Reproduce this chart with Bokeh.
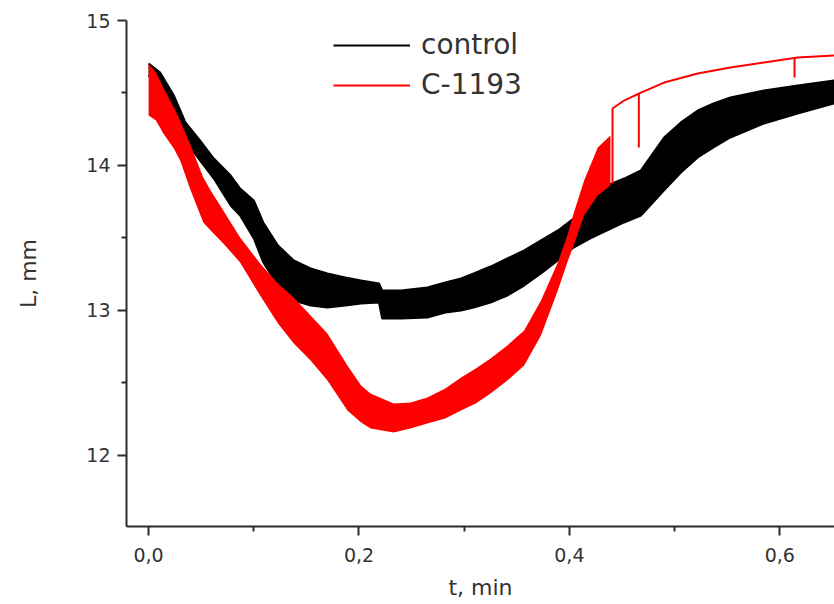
from bokeh.plotting import figure
from bokeh.models import Range1d, FixedTicker, CustomJSTickFormatter, Legend, LegendItem
from bokeh.embed import file_html
from bokeh.resources import INLINE

# ---- data (t in min, L in mm) ----
control_t = [0.000, 0.011, 0.024, 0.035, 0.049, 0.062, 0.078, 0.087, 0.100, 0.109,
             0.123, 0.138, 0.154, 0.170, 0.187, 0.202, 0.219, 0.222, 0.240, 0.265,
             0.282, 0.297, 0.309, 0.325, 0.341, 0.357, 0.373, 0.389, 0.404, 0.420,
             0.436, 0.452, 0.468, 0.490, 0.506, 0.522, 0.537, 0.553, 0.585, 0.617, 0.652]
control_upper = [14.703, 14.641, 14.483, 14.297, 14.172, 14.048, 13.931, 13.841, 13.759, 13.607,
                 13.448, 13.345, 13.290, 13.255, 13.228, 13.207, 13.186, 13.138, 13.138, 13.159,
                 13.193, 13.221, 13.255, 13.303, 13.359, 13.414, 13.483, 13.552, 13.634, 13.772,
                 13.862, 13.910, 13.966, 14.193, 14.297, 14.379, 14.428, 14.469, 14.517, 14.552, 14.586]
control_lower = [14.621, 14.517, 14.345, 14.172, 14.034, 13.910, 13.724, 13.655, 13.497, 13.331,
                 13.172, 13.069, 13.034, 13.021, 13.034, 13.048, 13.055, 12.945, 12.945, 12.952,
                 12.986, 13.000, 13.021, 13.055, 13.103, 13.172, 13.255, 13.345, 13.434, 13.497,
                 13.552, 13.607, 13.655, 13.828, 13.952, 14.055, 14.124, 14.193, 14.290, 14.359, 14.428]

c1193_t = [0.000, 0.007, 0.014, 0.024, 0.030, 0.040, 0.052, 0.059, 0.071, 0.087,
           0.106, 0.123, 0.138, 0.154, 0.170, 0.189, 0.202, 0.211, 0.233, 0.249,
           0.265, 0.282, 0.297, 0.311, 0.325, 0.341, 0.357, 0.373, 0.389, 0.398,
           0.404, 0.414, 0.427, 0.439]
c1193_upper = [14.703, 14.641, 14.538, 14.400, 14.310, 14.138, 13.917, 13.828, 13.690, 13.503,
               13.324, 13.186, 13.090, 12.966, 12.841, 12.621, 12.483, 12.428, 12.359, 12.366,
               12.400, 12.462, 12.538, 12.600, 12.669, 12.759, 12.862, 13.069, 13.331, 13.517,
               13.669, 13.897, 14.124, 14.207]
c1193_lower = [14.345, 14.310, 14.221, 14.117, 14.034, 13.828, 13.607, 13.552, 13.462, 13.331,
               13.103, 12.910, 12.772, 12.655, 12.517, 12.310, 12.228, 12.186, 12.159, 12.186,
               12.221, 12.255, 12.310, 12.359, 12.428, 12.517, 12.621, 12.828, 13.138, 13.331,
               13.448, 13.655, 13.793, 13.862]
c1193_tail_t = [0.441, 0.441, 0.452, 0.468, 0.490, 0.522, 0.553, 0.585, 0.617, 0.652]
c1193_tail_L = [13.876, 14.393, 14.448, 14.503, 14.572, 14.634, 14.676, 14.710, 14.745, 14.759]
c1193_spike_t = [0.466, 0.614]
c1193_spike_top = [14.500, 14.745]
c1193_spike_bottom = [14.124, 14.607]

x_ticks = [0.0, 0.2, 0.4, 0.6]
y_ticks = [12, 13, 14, 15]

FONT = "DejaVu Sans"
AX = "#2b2b2b"

p = figure(width=834, height=602, output_backend="svg", toolbar_location=None,
           x_range=Range1d(-0.021, 0.652), y_range=Range1d(11.51, 15.0),
           min_border_left=126, min_border_right=0, min_border_top=20, min_border_bottom=76)
p.outline_line_color = None
p.grid.visible = False

# bands
p.varea(x=control_t, y1=control_lower, y2=control_upper, fill_color="#000000")
r_ctrl = p.line(control_t, control_upper, line_color="#000000", line_width=2)
p.line(control_t, control_lower, line_color="#000000", line_width=2)
p.varea(x=c1193_t, y1=c1193_lower, y2=c1193_upper, fill_color="#ff0000")
r_c = p.line(c1193_tail_t, c1193_tail_L, line_color="#ff0000", line_width=2)
p.segment(x0=c1193_spike_t, y0=c1193_spike_top, x1=c1193_spike_t, y1=c1193_spike_bottom,
          line_color="#ff0000", line_width=2)

legend = Legend(items=[LegendItem(label="control", renderers=[r_ctrl]),
                       LegendItem(label="C-1193", renderers=[r_c])],
                location=(207, 425), padding=0, margin=0, spacing=7,
                glyph_width=77, glyph_height=30, label_height=30, label_standoff=11,
                label_text_font=FONT, label_text_font_size="28px", label_text_color="#333333",
                border_line_color=None, background_fill_alpha=0)
p.add_layout(legend)

for ax in (p.xaxis[0], p.yaxis[0]):
    ax.axis_line_color = AX
    ax.axis_line_width = 2
    ax.major_tick_line_color = AX
    ax.major_tick_line_width = 2
    ax.minor_tick_line_color = AX
    ax.minor_tick_line_width = 2
    ax.major_tick_in = 0
    ax.major_tick_out = 9
    ax.minor_tick_in = 0
    ax.minor_tick_out = 5
    ax.major_label_text_font = FONT
    ax.major_label_text_font_size = "19px"
    ax.major_label_text_color = "#333333"
    ax.axis_label_text_font = FONT
    ax.axis_label_text_font_size = "22px"
    ax.axis_label_text_font_style = "normal"
    ax.axis_label_text_color = "#333333"

p.xaxis.ticker = FixedTicker(ticks=x_ticks, minor_ticks=[0.1, 0.3, 0.5])
p.yaxis.ticker = FixedTicker(ticks=y_ticks, minor_ticks=[11.5, 12.5, 13.5, 14.5])
p.xaxis.formatter = CustomJSTickFormatter(code="return tick.toFixed(1).replace('.', ',');")
p.xaxis.axis_label = "t, min"
p.yaxis.axis_label = "L, mm"
p.xaxis.major_label_standoff = 12
p.xaxis.axis_label_standoff = 10
p.yaxis.major_label_standoff = 7
p.yaxis.axis_label_standoff = 42

open("out.html", "w").write(file_html(p, INLINE))
